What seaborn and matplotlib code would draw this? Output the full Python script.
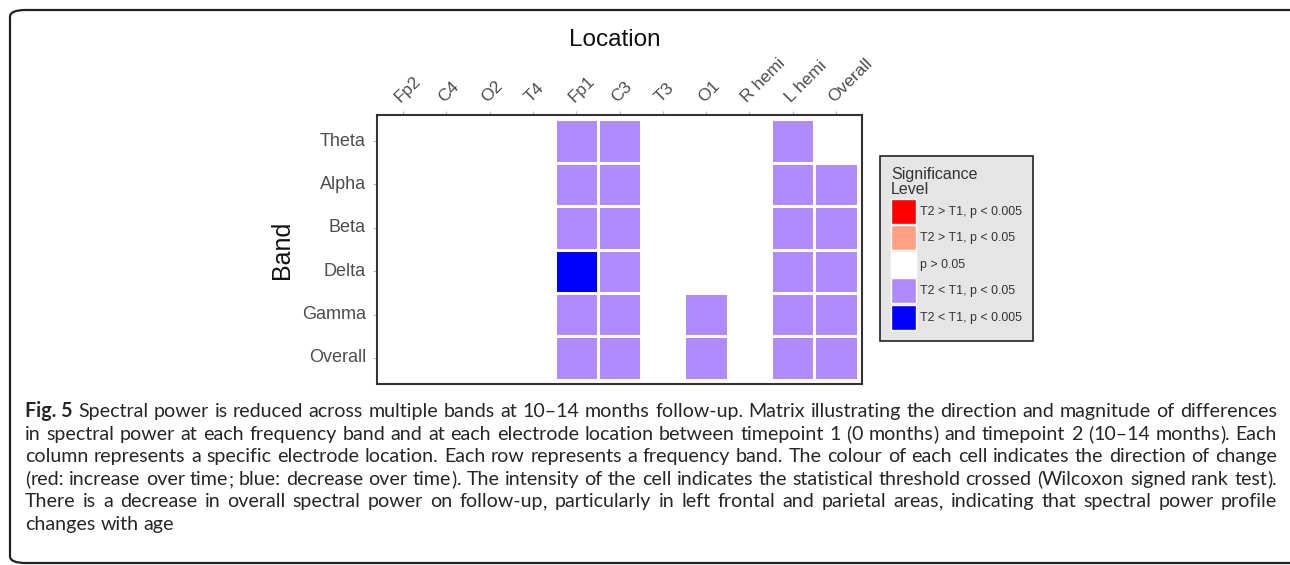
import re
import numpy as np
import pandas as pd
import seaborn as sns
import matplotlib
matplotlib.use("Agg")
import matplotlib.pyplot as plt
from matplotlib.colors import ListedColormap, BoundaryNorm
from matplotlib.patches import Patch, FancyBboxPatch

# ---- data -------------------------------------------------------------
locations = ["Fp2", "C4", "O2", "T4", "Fp1", "C3", "T3", "O1",
             "R hemi", "L hemi", "Overall"]
bands = ["Theta", "Alpha", "Beta", "Delta", "Gamma", "Overall"]

# significance code per band (rows) and location (columns):
#  2: T2 > T1, p < 0.005   1: T2 > T1, p < 0.05   0: p > 0.05
# -1: T2 < T1, p < 0.05   -2: T2 < T1, p < 0.005
theta = [0, 0, 0, 0, -1, -1, 0, 0, 0, -1, 0]
alpha = [0, 0, 0, 0, -1, -1, 0, 0, 0, -1, -1]
beta = [0, 0, 0, 0, -1, -1, 0, 0, 0, -1, -1]
delta = [0, 0, 0, 0, -2, -1, 0, 0, 0, -1, -1]
gamma = [0, 0, 0, 0, -1, -1, 0, -1, 0, -1, -1]
overall = [0, 0, 0, 0, -1, -1, 0, -1, 0, -1, -1]

levels = [2, 1, 0, -1, -2]
level_labels = ["T2 > T1, p < 0.005", "T2 > T1, p < 0.05", "p > 0.05",
                "T2 < T1, p < 0.05", "T2 < T1, p < 0.005"]
level_colors = ["#FF0000", "#FFA084", "#FFFFFF", "#B08BFF", "#0000FF"]

caption_lines = [
    "Spectral power is reduced across multiple bands at 10\u201314 months follow-up. Matrix illustrating the direction and magnitude of differences",
    "in spectral power at each frequency band and at each electrode location between timepoint 1 (0 months) and timepoint 2 (10\u201314 months). Each",
    "column represents a specific electrode location. Each row represents a frequency band. The colour of each cell indicates the direction of change",
    "(red: increase over time; blue: decrease over time). The intensity of the cell indicates the statistical threshold crossed (Wilcoxon signed rank test).",
    "There is a decrease in overall spectral power on follow-up, particularly in left frontal and parietal areas, indicating that spectral power profile",
    "changes with age",
]

# ---- figure -----------------------------------------------------------
W, H = 1290, 565
fig = plt.figure(figsize=(W / 100, H / 100), dpi=100)
fig.patch.set_facecolor("white")

def fx(px):
    return px / W

def fy(py):
    return 1 - py / H

# rounded panel border
border = FancyBboxPatch((fx(10), fy(563)), fx(1320) - fx(10), fy(10) - fy(563),
                        boxstyle="round,pad=0,rounding_size=0.012",
                        transform=fig.transFigure, fill=False,
                        edgecolor="#222222", linewidth=1.6, zorder=0)
fig.patches.append(border)

ax = fig.add_axes([fx(377), fy(384), fx(862) - fx(377), fy(115) - fy(384)])

grid = pd.DataFrame([theta, alpha, beta, delta, gamma, overall],
                    index=bands, columns=locations)

ordered_colors = level_colors[::-1]  # from -2 to 2
cmap = ListedColormap(ordered_colors)
norm = BoundaryNorm([-2.5, -1.5, -0.5, 0.5, 1.5, 2.5], cmap.N)

sns.heatmap(grid, ax=ax, cmap=cmap, norm=norm, cbar=False,
            linewidths=0.8, linecolor="white", square=False)

ax.set_xlim(-0.1, len(locations) + 0.1)
ax.set_ylim(len(bands) + 0.1, -0.1)

for side in ["top", "bottom", "left", "right"]:
    ax.spines[side].set_visible(True)
    ax.spines[side].set_color("#333333")
    ax.spines[side].set_linewidth(1.5)

tick_font = ["Liberation Sans", "Arial", "DejaVu Sans"]
ax.xaxis.tick_top()
ax.set_xticks(np.arange(len(locations)) + 0.5)
ax.set_xticklabels(locations, rotation=45, ha="left", va="bottom",
                   rotation_mode="anchor", color="#4D4D4D",
                   fontsize=12.5, family=tick_font)
ax.set_yticks(np.arange(len(bands)) + 0.5)
ax.set_yticklabels(bands, rotation=0, color="#4D4D4D", fontsize=13,
                   family=tick_font)
ax.tick_params(axis="both", length=3, width=0.8, color="#BBBBBB", pad=5)
ax.tick_params(axis="x", pad=4)

ax.xaxis.set_label_position("top")
ax.set_xlabel("Location", fontsize=17.5, family=tick_font, color="#111111")
ax.xaxis.set_label_coords(0.49, 1.255)
ax.set_ylabel("Band", fontsize=18, family=tick_font, color="#111111")
ax.yaxis.set_label_coords(-0.172, 0.5)

# ---- legend -----------------------------------------------------------
handles = [Patch(facecolor=c, edgecolor="white", linewidth=1.0)
           for c in level_colors]
leg_fs = 8.9
leg = fig.legend(handles, level_labels, title="Significance\nLevel",
                 loc="upper left", bbox_to_anchor=(fx(880), fy(156)),
                 frameon=True, fancybox=False, edgecolor="#222222",
                 facecolor="#E5E5E5", framealpha=1,
                 prop={"family": tick_font, "size": leg_fs},
                 title_fontproperties={"family": tick_font, "size": 11.5},
                 alignment="left", handlelength=18 / leg_fs,
                 handleheight=(18 / leg_fs - 0.245) / 0.65,
                 handletextpad=0.3, labelspacing=0.12, borderpad=0.9,
                 borderaxespad=0)
leg.get_frame().set_linewidth(1.2)
for t in leg.get_texts():
    t.set_color("#333333")
leg.get_title().set_color("#333333")
leg.get_title().set_linespacing(1.0)

# ---- caption (justified lines) ---------------------------------------
cap_family = ["Lato", "Open Sans", "DejaVu Sans"]
x_left, x_right = 25, 1277
y_first = 417
line_step = 22.6
renderer = fig.canvas.get_renderer()

# size the caption so the widest line sets naturally across the panel
probe = fig.text(0, 0, caption_lines[3], fontsize=12, family=cap_family)
probe_w = probe.get_window_extent(renderer).width
probe.remove()
cap_size = 12 * (x_right - x_left) / probe_w * 0.99

def width_of(t):
    return t.get_window_extent(renderer).width

for i, line in enumerate(caption_lines):
    # whole-pixel baselines keep the words of a line on one level
    y = fy(round(y_first + i * line_step))
    words = [("Fig. 5", "bold")] if i == 0 else []
    words += [(w, "normal") for w in line.split(" ")]
    # each word is set as letters plus separate punctuation runs
    word_runs = []
    for w, weight in words:
        runs = []
        for seg in re.split(r"([,;()])", w):
            if not seg:
                continue
            t = fig.text(0, y, seg, fontsize=cap_size, family=cap_family,
                         weight=weight, color="#262626",
                         va="baseline", ha="left")
            runs.append((t, width_of(t)))
        word_runs.append(runs)
    word_widths = [sum(wd for _, wd in runs) for runs in word_runs]
    justify = i < len(caption_lines) - 1
    if justify:
        gap = (x_right - x_left - sum(word_widths)) / (len(word_runs) - 1)
    else:
        space = fig.text(0, 0, "a b", fontsize=cap_size, family=cap_family)
        ab = fig.text(0, 0, "ab", fontsize=cap_size, family=cap_family)
        gap = width_of(space) - width_of(ab)
        space.remove()
        ab.remove()
    x = x_left
    for runs, ww in zip(word_runs, word_widths):
        rx = x
        for t, wd in runs:
            t.set_x(fx(rx))
            rx += wd
        x += ww + gap

fig.savefig("out.png", dpi=100, facecolor="white")
